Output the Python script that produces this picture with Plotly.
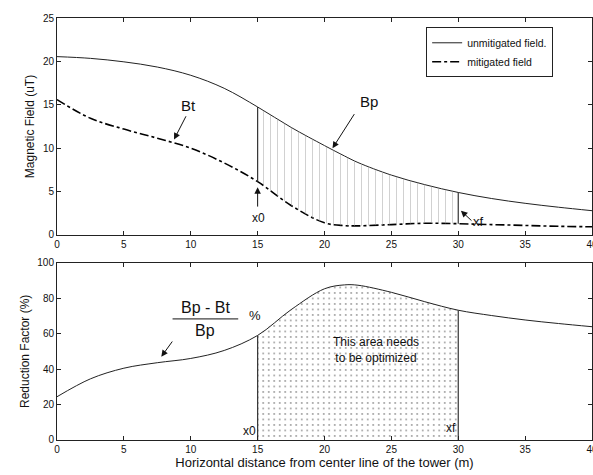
import plotly.graph_objects as go

# Horizontal distance from the tower centre line (m)
distance = [0, 2.5, 5, 7.5, 10, 12.5, 15, 17.5, 20, 21.5, 22.5, 25, 27.5, 30, 32.5, 35, 37.5, 40]

# Magnetic field without mitigation, Bp (uT)
unmitigated = [20.55, 20.35, 19.95, 19.35, 18.4, 16.9, 14.75, 12.4, 10.3, 9.1, 8.35, 6.9, 5.8, 4.9,
               4.2, 3.65, 3.2, 2.8]

# Magnetic field with mitigation, Bt (uT)
mitigated = [15.6, 13.45, 12.2, 11.15, 10.0, 8.3, 6.15, 3.4, 1.4, 1.08, 1.05, 1.2, 1.35, 1.3,
             1.2, 1.1, 1.0, 0.95]

# Reduction factor (Bp - Bt) / Bp (%)
reduction = [24.4, 34.5, 40.5, 43.6, 46.0, 50.5, 59.0, 73.5, 85.3, 87.5, 87.3, 83.3, 78.0, 73.2,
             70.2, 67.7, 65.7, 63.9]

x_ticks = [0, 5, 10, 15, 20, 25, 30, 35, 40]
field_ticks = [0, 5, 10, 15, 20, 25]
reduction_ticks = [0, 20, 40, 60, 80, 100]

# Optimisation window
x0, xf = 15, 30
i0, i1 = distance.index(x0), distance.index(xf)
win_x = distance[i0:i1 + 1]

FONT = "Liberation Sans, Arial, sans-serif"
INK = "#111111"
CLEAR = "rgba(255,255,255,0)"

fig = go.Figure()

# ---- top panel: field profiles ----
fig.add_trace(go.Scatter(
    x=distance, y=unmitigated, mode="lines", name="unmitigated field.",
    line=dict(color="#222222", width=1, shape="spline"), xaxis="x", yaxis="y"))
fig.add_trace(go.Scatter(
    x=distance, y=mitigated, mode="lines", name="mitigated field",
    line=dict(color="#000000", width=1.6, dash="dashdot", shape="spline"), xaxis="x", yaxis="y"))

# hatched band between the two profiles inside the window
fig.add_trace(go.Scatter(
    x=win_x, y=mitigated[i0:i1 + 1], mode="lines", line=dict(width=0, shape="spline"),
    showlegend=False, hoverinfo="skip", xaxis="x", yaxis="y"))
fig.add_trace(go.Scatter(
    x=win_x, y=unmitigated[i0:i1 + 1], mode="lines", line=dict(width=0, shape="spline"),
    fill="tonexty", fillcolor=CLEAR,
    fillpattern=dict(shape="|", fgcolor="#9a9a9a", bgcolor=CLEAR, size=7, solidity=0.13),
    showlegend=False, hoverinfo="skip", xaxis="x", yaxis="y"))

# window edges
for i in (i0, i1):
    fig.add_trace(go.Scatter(
        x=[distance[i], distance[i]], y=[mitigated[i], unmitigated[i]], mode="lines",
        line=dict(color="#333333", width=1.2), showlegend=False, hoverinfo="skip",
        xaxis="x", yaxis="y"))

# ---- bottom panel: reduction factor ----
fig.add_trace(go.Scatter(
    x=win_x, y=reduction[i0:i1 + 1], mode="lines", line=dict(width=0, shape="spline"),
    fill="tozeroy", fillcolor=CLEAR,
    fillpattern=dict(shape=".", fgcolor="#222222", bgcolor=CLEAR, size=5.5, solidity=0.08),
    showlegend=False, hoverinfo="skip", xaxis="x2", yaxis="y2"))
fig.add_trace(go.Scatter(
    x=distance, y=reduction, mode="lines", line=dict(color="#222222", width=1, shape="spline"),
    showlegend=False, xaxis="x2", yaxis="y2"))
for i in (i0, i1):
    fig.add_trace(go.Scatter(
        x=[distance[i], distance[i]], y=[0, reduction[i]], mode="lines",
        line=dict(color="#333333", width=1.2), showlegend=False, hoverinfo="skip",
        xaxis="x2", yaxis="y2"))

axis_common = dict(
    showline=True, linecolor="#222222", linewidth=1, mirror="ticks",
    ticks="inside", ticklen=4, tickcolor="#222222", showgrid=False, zeroline=False,
    tickfont=dict(family=FONT, size=10, color=INK),
)

fig.update_layout(
    width=593, height=475,
    margin=dict(l=57, r=1, t=18, b=35),
    paper_bgcolor="white", plot_bgcolor="white",
    font=dict(family=FONT, color=INK),
    xaxis=dict(domain=[0, 1], anchor="y", range=[0, 40], tickvals=x_ticks,
               ticklabeloverflow="allow", automargin=False, **axis_common),
    yaxis=dict(domain=[0.4858, 1], anchor="x", range=[0, 25], tickvals=field_ticks,
               title=dict(text="Magnetic Field (uT)", font=dict(family=FONT, size=12, color=INK),
                          standoff=5),
               automargin=False, **axis_common),
    xaxis2=dict(domain=[0, 1], anchor="y2", range=[0, 40], tickvals=x_ticks,
                ticklabeloverflow="allow", automargin=False,
                title=dict(text="Horizontal distance from center line of the tower (m)",
                           font=dict(family=FONT, size=13, color=INK), standoff=2),
                **axis_common),
    yaxis2=dict(domain=[0, 0.4201], anchor="x2", range=[0, 100], tickvals=reduction_ticks,
                title=dict(text="Reduction Factor (%)", font=dict(family=FONT, size=12, color=INK),
                           standoff=5),
                automargin=False, **axis_common),
    legend=dict(x=0.69, y=0.978, xanchor="left", yanchor="top", traceorder="normal",
                bordercolor="#222222", borderwidth=1, bgcolor="white",
                font=dict(family=FONT, size=10.5, color=INK), tracegroupgap=0,
                itemwidth=30),
    showlegend=True,
)

def label(text, x, y, ref, size=15, **kw):
    xr, yr = ref
    fig.add_annotation(text=text, x=x, y=y, xref=xr, yref=yr, showarrow=False,
                       font=dict(family=FONT, size=size, color=INK), **kw)

def arrow(tail, head, ref):
    xr, yr = ref
    fig.add_annotation(text="", x=head[0], y=head[1], ax=tail[0], ay=tail[1],
                       xref=xr, yref=yr, axref=xr, ayref=yr, showarrow=True,
                       arrowhead=2, arrowsize=1.3, arrowwidth=1, arrowcolor=INK)

top = ("x", "y")
bot = ("x2", "y2")

label("Bt", 9.85, 14.9, top)
arrow((9.7, 13.85), (8.75, 11.0), top)
label("Bp", 23.35, 15.4, top)
arrow((22.3, 14.1), (20.6, 10.0), top)
label("x0", 15.1, 2.0, top, size=12)
arrow((15.0, 3.1), (15.0, 5.5), top)
label("xf", 31.55, 1.5, top, size=13)
arrow((31.1, 1.5), (30.2, 2.8), top)

label("Bp - Bt", 11.13, 74.5, bot, size=16)
label("Bp", 11.06, 61.5, bot, size=16)
fig.add_shape(type="line", x0=8.64, x1=13.55, y0=68.3, y1=68.3, xref="x2", yref="y2",
              line=dict(color=INK, width=1))
label("%", 14.8, 70.0, bot, size=13)
arrow((8.7, 56.4), (7.8, 47.0), bot)
label("This area needs<br>to be optimized", 23.85, 50.8, bot, size=12)
label("x0", 15.0, 5.3, bot, size=12, xanchor="right")
label("xf", 30.0, 6.6, bot, size=12, xanchor="right")

fig.write_html("out.html")
